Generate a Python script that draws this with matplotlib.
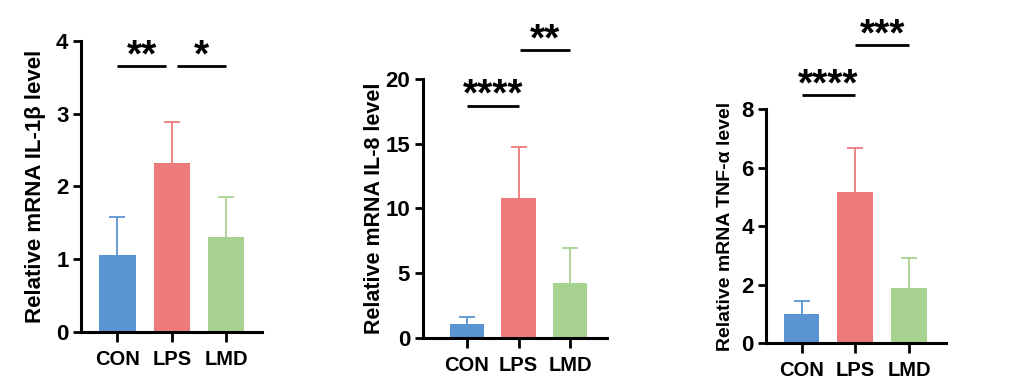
import matplotlib
matplotlib.use("Agg")
import matplotlib.pyplot as plt

plt.rcParams['font.family'] = ['Liberation Sans', 'DejaVu Sans']
plt.rcParams['font.weight'] = 'bold'

groups = ["CON", "LPS", "LMD"]
colors = ["#5B94D3", "#EE7B7C", "#A8D28F"]

il1b_mean = [1.05, 2.32, 1.30]
il1b_err = [0.53, 0.57, 0.56]
il8_mean = [1.06, 10.83, 4.25]
il8_err = [0.52, 3.94, 2.66]
tnf_mean = [1.00, 5.18, 1.88]
tnf_err = [0.45, 1.51, 1.05]

ylabels = ["Relative mRNA IL-1β level", "Relative mRNA IL-8 level", "Relative mRNA TNF-α level"]
yticks = [[0, 1, 2, 3, 4], [0, 5, 10, 15, 20], [0, 2, 4, 6, 8]]
ylims = [(0, 4), (0, 20), (0, 8)]

# significance: (x1, x2, y_line, label)
sig1 = [(0, 0.9, 3.66, "**"), (1.1, 2.0, 3.66, "*")]
sig2 = [(0, 1.0, 17.94, "****"), (1.03, 2.0, 22.25, "**")]
sig3 = [(0, 1.0, 8.5, "****"), (1.0, 2.0, 10.2, "***")]

panels = [
    (il1b_mean, il1b_err, sig1, [81, 261.7, 331.7, 41], (-0.667, 2.65), 16, 7),
    (il8_mean, il8_err, sig2, [422.7, 606.7, 337.7, 79], (-0.86, 2.71), 15.5, 0),
    (tnf_mean, tnf_err, sig3, [766, 945.7, 343.3, 109.3], (-0.66, 2.68), 14, 5),
]

W, H = 1010, 392
fig = plt.figure(figsize=(W / 100, H / 100), dpi=100)

for i, (means, errs, sigs, box, xl, ylfs, lpad) in enumerate(panels):
    l, r, b, t = box
    ax = fig.add_axes([l / W, (H - b) / H, (r - l) / W, (b - t) / H])
    x = list(range(len(groups)))
    ax.bar(x, means, width=0.667, color=colors, zorder=2)
    tops = [m + e for m, e in zip(means, errs)]
    ax.vlines(x, means, tops, colors=colors, lw=1.3, zorder=1)
    for xi, tp, c in zip(x, tops, colors):
        ax.plot([xi], [tp], marker='_', markersize=11, markeredgewidth=1.3,
                color=c, zorder=1)
    ax.set_xlim(*xl)
    ax.set_ylim(*ylims[i])
    ax.set_yticks(yticks[i])
    ax.set_xticks(x)
    ax.set_xticklabels(groups, fontsize=14.5, fontweight='bold')
    ax.tick_params(axis='y', labelsize=16, width=2, length=6, pad=3)
    ax.tick_params(axis='x', width=2, length=7, pad=6)
    for lab in ax.get_yticklabels():
        lab.set_fontweight('bold')
    for s in ['top', 'right']:
        ax.spines[s].set_visible(False)
    for s in ['left', 'bottom']:
        ax.spines[s].set_linewidth(2.2)
    ax.set_ylabel(ylabels[i], fontsize=ylfs, fontweight='bold', labelpad=lpad)
    for x1, x2, yl, lab in sigs:
        ax.plot([x1, x2], [yl, yl], color='black', lw=2, clip_on=False,
                solid_capstyle='butt')
        ax.annotate(lab, xy=((x1 + x2) / 2, yl), xytext=(0, -6),
                    textcoords='offset points', ha='center', va='bottom',
                    fontsize=28, fontweight='bold', annotation_clip=False)

fig.savefig("out.png", dpi=100)
